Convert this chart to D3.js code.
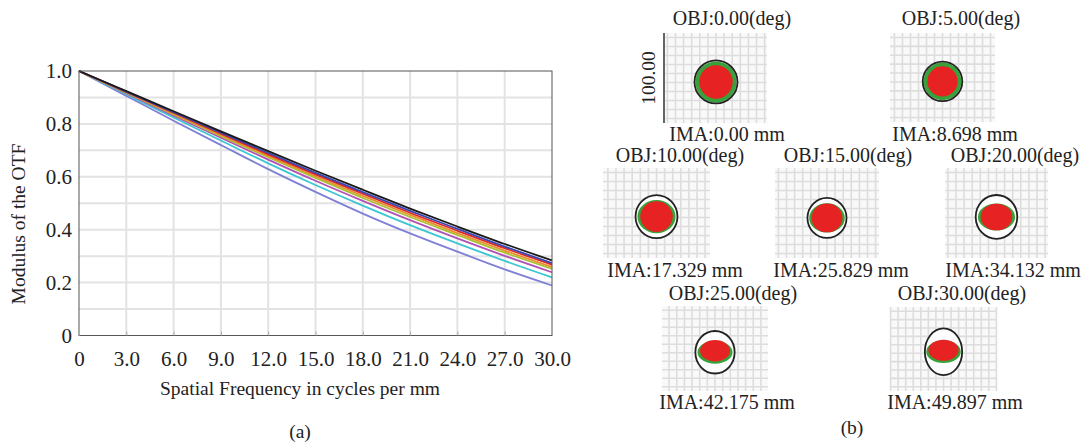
<!DOCTYPE html>
<html>
<head>
<meta charset="utf-8">
<script src="https://cdn.jsdelivr.net/npm/d3@7"></script>
<style>
  html, body { margin: 0; padding: 0; background: #fff; }
  text { font-family: "Liberation Serif", "DejaVu Serif", serif; fill: #222; }
</style>
</head>
<body>
<svg id="canvas" width="1085" height="443"></svg>
<script>
// ---- data: MTF curves (a) ----
const freqs = [0, 3, 6, 9, 12, 15, 18, 21, 24, 27, 30];
const mtfDiffraction = [1.000, 0.924, 0.848, 0.772, 0.697, 0.623, 0.551, 0.480, 0.412, 0.346, 0.284];
const mtfBlue        = [1.000, 0.922, 0.844, 0.767, 0.690, 0.615, 0.542, 0.471, 0.403, 0.336, 0.274];
const mtfRed         = [1.000, 0.921, 0.842, 0.763, 0.685, 0.609, 0.536, 0.464, 0.396, 0.330, 0.268];
const mtfOrange      = [1.000, 0.919, 0.839, 0.758, 0.679, 0.602, 0.528, 0.456, 0.387, 0.321, 0.259];
const mtfOlive       = [1.000, 0.918, 0.836, 0.754, 0.674, 0.596, 0.520, 0.448, 0.380, 0.313, 0.252];
const mtfPurple      = [1.000, 0.916, 0.831, 0.748, 0.665, 0.585, 0.509, 0.436, 0.367, 0.301, 0.239];
const mtfCyan        = [1.000, 0.912, 0.824, 0.737, 0.651, 0.569, 0.491, 0.417, 0.348, 0.282, 0.220];
const mtfLavender    = [1.000, 0.906, 0.812, 0.720, 0.629, 0.543, 0.461, 0.386, 0.317, 0.250, 0.189];
const xTicks = [0, 3, 6, 9, 12, 15, 18, 21, 24, 27, 30];
const yTicks = [0, 0.2, 0.4, 0.6, 0.8, 1.0];

// ---- data: spot diagrams (b), sizes in micrometres ----
const fieldAngles = ["0.00", "5.00", "10.00", "15.00", "20.00", "25.00", "30.00"];
const imaHeights = ["0.00", "8.698", "17.329", "25.829", "34.132", "42.175", "49.897"];
const airyRx  = [23.9, 22.2, 23.3, 21.7, 23.1, 23.1, 22.2];
const airyRy  = [23.9, 22.2, 23.9, 22.2, 24.4, 25.0, 27.8];
const greenRx = [22.8, 21.2, 21.2, 19.8, 20.6, 20.6, 20.6];
const greenRy = [22.8, 21.2, 18.4, 16.2, 15.0, 13.4, 13.4];
const redRx   = [18.6, 17.0, 18.0, 17.2, 17.6, 17.6, 18.0];
const redRy   = [18.6, 17.0, 17.0, 16.0, 14.8, 12.6, 12.6];
const spotDy  = [-4.4, -4.4, -4.0, -5.5, -4.4, -4.4, -3.3];
const scaleBar = "100.00";

const svg = d3.select("#canvas");
svg.append("rect").attr("width", 1085).attr("height", 443).attr("fill", "#fff");

// ================= (a) MTF =================
const x = d3.scaleLinear().domain([0, 30]).range([79, 552]);
const y = d3.scaleLinear().domain([0, 1]).range([335.5, 71]);

const grid = svg.append("g");
grid.selectAll(".vg").data(d3.range(3, 30, 3)).join("line")
  .attr("x1", d => x(d)).attr("x2", d => x(d))
  .attr("y1", y(0)).attr("y2", y(1))
  .attr("stroke", "#e3e3e3").attr("stroke-width", 2);
grid.selectAll(".hg").data(d3.range(1, 10).map(d => d / 10)).join("line")
  .attr("x1", x(0)).attr("x2", x(30))
  .attr("y1", d => y(d)).attr("y2", d => y(d))
  .attr("stroke", "#e3e3e3").attr("stroke-width", 2);

const series = [
  { v: mtfLavender, c: "#7f7fd6" },
  { v: mtfCyan, c: "#3cc6d2" },
  { v: mtfPurple, c: "#b052b4" },
  { v: mtfOlive, c: "#a9bf34" },
  { v: mtfOrange, c: "#e8902a" },
  { v: mtfRed, c: "#e02626" },
  { v: mtfBlue, c: "#3a46b0" },
  { v: mtfDiffraction, c: "#1a1a1a" }
];
const line = d3.line().x((d, i) => x(freqs[i])).y(d => y(d)).curve(d3.curveMonotoneX);
svg.append("g").selectAll("path").data(series).join("path")
  .attr("d", d => line(d.v))
  .attr("fill", "none")
  .attr("stroke", d => d.c)
  .attr("stroke-width", 1.8);

svg.append("rect")
  .attr("x", x(0)).attr("y", y(1))
  .attr("width", x(30) - x(0)).attr("height", y(0) - y(1))
  .attr("fill", "none").attr("stroke", "#555").attr("stroke-width", 1);

const xAxis = svg.append("g").attr("transform", `translate(0,${y(0)})`)
  .call(d3.axisBottom(x).tickValues(xTicks).tickSizeInner(-4).tickSizeOuter(0)
    .tickFormat(d => d === 0 ? "0" : d3.format(".1f")(d)));
xAxis.select(".domain").remove();
xAxis.selectAll(".tick line").attr("stroke", "#aaa");
xAxis.selectAll("text").attr("y", 30).attr("dy", 0)
  .style("font-size", "21px").style("font-family", "Liberation Serif").attr("fill", "#222");

const yAxis = svg.append("g").attr("transform", `translate(${x(0)},0)`)
  .call(d3.axisLeft(y).tickValues(yTicks).tickSize(0).tickPadding(7)
    .tickFormat(d => d === 0 ? "0" : d3.format(".1f")(d)));
yAxis.select(".domain").remove();
yAxis.selectAll("text").style("font-size", "21px").style("font-family", "Liberation Serif").attr("fill", "#222");

svg.append("text").attr("x", 300).attr("y", 395).attr("text-anchor", "middle")
  .style("font-size", "19.5px").text("Spatial Frequency in cycles per mm");
svg.append("text").attr("transform", "translate(25,224) rotate(-90)").attr("text-anchor", "middle")
  .style("font-size", "19.5px").text("Modulus of the OTF");
svg.append("text").attr("x", 300).attr("y", 438).attr("text-anchor", "middle")
  .style("font-size", "19.5px").text("(a)");

// ================= (b) spot diagrams =================
const panels = [
  { x0: 665, y0: 33, w: 102, h: 90, tx: 732, ty: 25, ix: 727, iy: 141 },
  { x0: 890, y0: 33, w: 105, h: 89, tx: 961, ty: 25, ix: 955, iy: 141 },
  { x0: 603, y0: 168, w: 107, h: 90, tx: 680, ty: 162, ix: 675, iy: 277 },
  { x0: 775, y0: 168, w: 104, h: 90, tx: 848, ty: 162, ix: 841, iy: 277 },
  { x0: 945, y0: 168, w: 103, h: 90, tx: 1015, ty: 162, ix: 1013, iy: 277 },
  { x0: 662, y0: 306, w: 106, h: 85, tx: 733, ty: 300, ix: 727, iy: 409 },
  { x0: 890, y0: 307, w: 107, h: 84, tx: 962, ty: 300, ix: 955, iy: 409 }
];

panels.forEach((p, i) => {
  const g = svg.append("g");
  const k = p.h / 100;
  const half = p.w / k / 2;
  const sx = d3.scaleLinear().domain([-half, half]).range([p.x0, p.x0 + p.w]);
  const sy = d3.scaleLinear().domain([-50, 50]).range([p.y0 + p.h, p.y0]);

  g.append("rect").attr("x", p.x0).attr("y", p.y0).attr("width", p.w).attr("height", p.h)
    .attr("fill", "#f9f9f9");
  const gx = d3.range(Math.ceil(-half / 9) * 9, half, 9);
  g.selectAll(".gx").data(gx).join("line")
    .attr("x1", d => sx(d)).attr("x2", d => sx(d)).attr("y1", p.y0).attr("y2", p.y0 + p.h)
    .attr("stroke", "#dddddd").attr("stroke-width", 1.6);
  g.selectAll(".gy").data(d3.range(-45, 50, 10)).join("line")
    .attr("y1", d => sy(d)).attr("y2", d => sy(d)).attr("x1", p.x0).attr("x2", p.x0 + p.w)
    .attr("stroke", "#dddddd").attr("stroke-width", 1.6);

  const cx = sx(0), cy = sy(spotDy[i]);
  g.append("ellipse").attr("cx", cx).attr("cy", cy)
    .attr("rx", airyRx[i] * k).attr("ry", airyRy[i] * k).attr("fill", "#fdfdfd");
  g.append("ellipse").attr("cx", cx).attr("cy", cy)
    .attr("rx", greenRx[i] * k).attr("ry", greenRy[i] * k).attr("fill", "#38a23a");
  g.append("ellipse").attr("cx", cx).attr("cy", cy - (i >= 5 ? 1.5 : 0))
    .attr("rx", redRx[i] * k).attr("ry", redRy[i] * k).attr("fill", "#e62222");
  g.append("ellipse").attr("cx", cx).attr("cy", cy)
    .attr("rx", airyRx[i] * k).attr("ry", airyRy[i] * k)
    .attr("fill", "none").attr("stroke", "#222").attr("stroke-width", 1.8);

  g.append("text").attr("x", p.tx).attr("y", p.ty).attr("text-anchor", "middle")
    .style("font-size", "20px").text(`OBJ:${fieldAngles[i]}(deg)`);
  g.append("text").attr("x", p.ix).attr("y", p.iy).attr("text-anchor", "middle")
    .style("font-size", "20px").text(`IMA:${imaHeights[i]} mm`);

  if (i === 0) {
    g.append("line").attr("x1", p.x0 - 1).attr("x2", p.x0 - 1)
      .attr("y1", p.y0).attr("y2", p.y0 + p.h)
      .attr("stroke", "#666").attr("stroke-width", 2);
    g.append("text").attr("transform", `translate(${p.x0 - 10},${p.y0 + p.h / 2}) rotate(-90)`)
      .attr("text-anchor", "middle").style("font-size", "19.5px").text(scaleBar);
  }
});

svg.append("text").attr("x", 852).attr("y", 434).attr("text-anchor", "middle")
  .style("font-size", "19.5px").text("(b)");
</script>
</body>
</html>
